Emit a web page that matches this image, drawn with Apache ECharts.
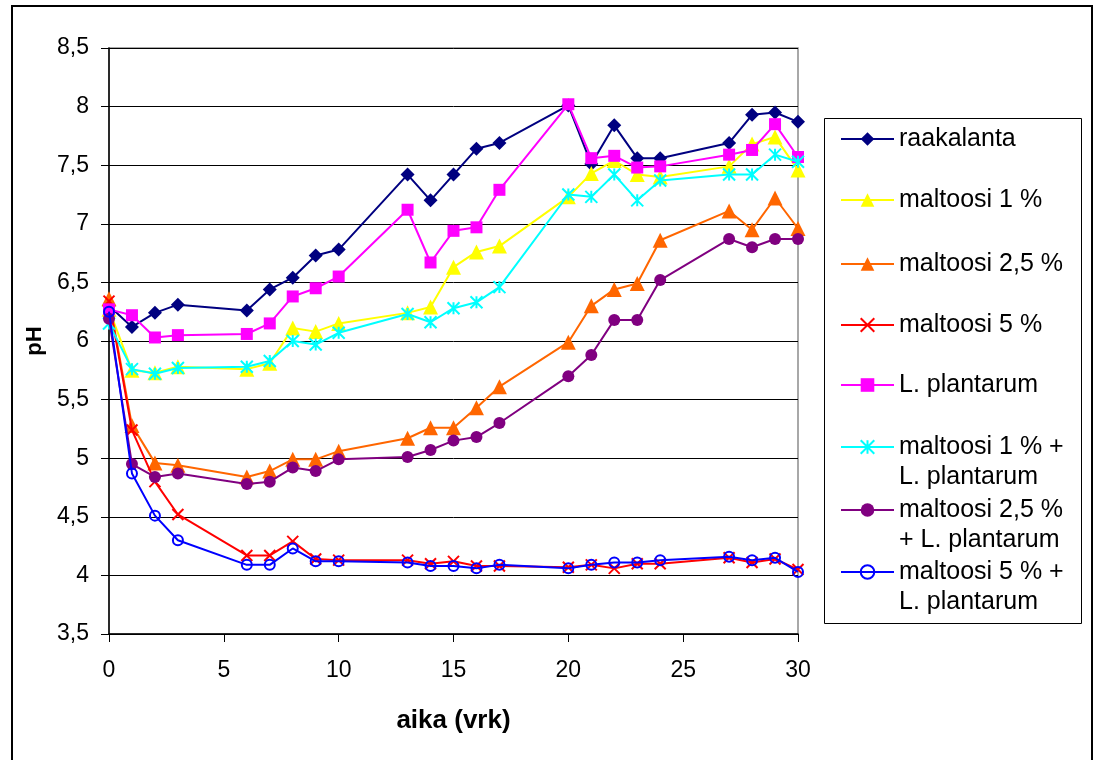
<!DOCTYPE html>
<html>
<head>
<meta charset="utf-8">
<title>pH</title>
<script src="https://cdn.jsdelivr.net/npm/echarts@6/dist/echarts.min.js"></script>
<style>
  html, body { margin: 0; padding: 0; background: #fff; }
  #chart { width: 1098px; height: 760px; }
</style>
</head>
<body>
<div id="chart"></div>
<script>
// Sampling days (vrk)
var days = [0, 1, 2, 3, 6, 7, 8, 9, 10, 13, 14, 15, 16, 17, 20, 21, 22, 23, 24, 27, 28, 29, 30];

// pH per treatment
var raakalanta = [6.30, 6.12, 6.24, 6.31, 6.26, 6.44, 6.54, 6.73, 6.78, 7.42, 7.20, 7.42, 7.64, 7.69, 8.01, 7.51, 7.84, 7.56, 7.56, 7.69, 7.93, 7.95, 7.87];
var maltoosi1 = [6.27, 5.75, 5.73, 5.78, 5.76, 5.81, 6.11, 6.08, 6.15, 6.24, 6.29, 6.63, 6.76, 6.81, 7.23, 7.43, 7.54, 7.42, 7.40, 7.49, 7.68, 7.74, 7.46];
var maltoosi25 = [6.36, 5.28, 4.96, 4.94, 4.84, 4.89, 4.99, 4.99, 5.06, 5.17, 5.26, 5.26, 5.43, 5.61, 5.99, 6.30, 6.44, 6.49, 6.86, 7.11, 6.95, 7.22, 6.96];
var maltoosi5 = [6.34, 5.24, 4.80, 4.52, 4.17, 4.17, 4.29, 4.14, 4.13, 4.13, 4.10, 4.12, 4.08, 4.08, 4.07, 4.09, 4.06, 4.10, 4.10, 4.15, 4.11, 4.14, 4.05];
var plantarum = [6.27, 6.22, 6.03, 6.05, 6.06, 6.15, 6.38, 6.45, 6.55, 7.12, 6.67, 6.94, 6.97, 7.29, 8.02, 7.56, 7.58, 7.48, 7.49, 7.59, 7.63, 7.85, 7.57];
var maltoosi1LP = [6.15, 5.76, 5.72, 5.77, 5.78, 5.83, 6.00, 5.97, 6.07, 6.23, 6.16, 6.28, 6.33, 6.46, 7.25, 7.23, 7.42, 7.20, 7.37, 7.42, 7.42, 7.59, 7.53];
var maltoosi25LP = [6.19, 4.95, 4.84, 4.87, 4.78, 4.80, 4.92, 4.89, 4.99, 5.01, 5.07, 5.15, 5.18, 5.30, 5.70, 5.88, 6.18, 6.18, 6.52, 6.87, 6.80, 6.87, 6.87];
var maltoosi5LP = [6.25, 4.87, 4.51, 4.30, 4.09, 4.09, 4.23, 4.12, 4.12, 4.11, 4.08, 4.08, 4.06, 4.09, 4.06, 4.09, 4.11, 4.11, 4.13, 4.16, 4.13, 4.15, 4.03];

// Series names and their wrapped legend labels
var seriesNames = [
  'raakalanta', 'maltoosi 1 %', 'maltoosi 2,5 %', 'maltoosi 5 %', 'L. plantarum',
  'maltoosi 1 % + L. plantarum', 'maltoosi 2,5 % + L. plantarum', 'maltoosi 5 % + L. plantarum'
];
var legendLabels = [
  'raakalanta', 'maltoosi 1 %', 'maltoosi 2,5 %', 'maltoosi 5 %', 'L. plantarum',
  'maltoosi 1 % +\nL. plantarum', 'maltoosi 2,5 %\n+ L. plantarum', 'maltoosi 5 % +\nL. plantarum'
];

// Axis ranges
var xMin = 0, xMax = 30, xStep = 5;
var yMin = 3.5, yMax = 8.5, yStep = 0.5;

var FONT = '"Liberation Sans", Arial, sans-serif';

var X_PATH = 'path://M0,0L10,10M10,0L0,10';
var STAR_PATH = 'path://M5,0L5,10M0,0L10,10M10,0L0,10';

var styles = [
  { color: '#000080', symbol: 'diamond', size: 14 },
  { color: '#FFFF00', symbol: 'triangle', size: 15 },
  { color: '#FF6600', symbol: 'triangle', size: 15 },
  { color: '#FF0000', symbol: X_PATH, size: 11, stroke: true },
  { color: '#FF00FF', symbol: 'rect', size: 12 },
  { color: '#00FFFF', symbol: STAR_PATH, size: 12, stroke: true },
  { color: '#800080', symbol: 'circle', size: 12 },
  { color: '#0000FF', symbol: 'circle', size: 10, open: true }
];

var valueSets = [raakalanta, maltoosi1, maltoosi25, maltoosi5, plantarum, maltoosi1LP, maltoosi25LP, maltoosi5LP];

var series = valueSets.map(function (vals, k) {
  var s = styles[k];
  var itemStyle = { color: s.color };
  if (s.stroke) { itemStyle.borderColor = s.color; itemStyle.borderWidth = 2; }
  if (s.open) { itemStyle.color = 'rgba(255,255,255,0)'; itemStyle.borderColor = s.color; itemStyle.borderWidth = 2; }
  return {
    name: seriesNames[k],
    type: 'line',
    data: days.map(function (d, i) { return [d, vals[i]]; }),
    symbol: s.symbol,
    symbolSize: s.size,
    showAllSymbol: true,
    lineStyle: { color: s.color, width: 2 },
    itemStyle: itemStyle,
    emphasis: { disabled: true },
    z: 2 + k
  };
});

// Legend rows: first-line centre of each entry
var legendRowY = [139, 200, 264, 325, 385, 447, 510, 572];
var legends = seriesNames.map(function (name, k) {
  var twoLine = legendLabels[k].indexOf('\n') >= 0;
  // a leading blank line keeps the first text line level with the icon
  var label = twoLine ? '\n' + legendLabels[k] : legendLabels[k];
  return {
    data: [name],
    left: 840,
    top: legendRowY[k] - (twoLine ? 45 : 15),
    orient: 'vertical',
    padding: 0,
    itemWidth: 53,
    itemHeight: 17,
    selectedMode: false,
    formatter: function () { return label; },
    textStyle: {
      fontFamily: FONT,
      fontSize: 25,
      color: '#000',
      lineHeight: 30
    }
  };
});

var chart = echarts.init(document.getElementById('chart'), null, { renderer: 'canvas' });
chart.setOption({
  animation: false,
  backgroundColor: '#fff',
  grid: {
    left: 109, right: 300, top: 48, bottom: 126,
    show: true, borderColor: '#8c8c8c', borderWidth: 1.5, backgroundColor: 'transparent'
  },
  legend: legends,
  xAxis: {
    type: 'value',
    min: xMin, max: xMax, interval: xStep,
    name: 'aika (vrk)',
    nameLocation: 'middle',
    nameGap: 74,
    nameTextStyle: { fontFamily: FONT, fontSize: 26, fontWeight: 'bold', color: '#000' },
    axisLine: { lineStyle: { color: '#000', width: 1.5 } },
    axisTick: { show: true, inside: false, length: 8, lineStyle: { color: '#000' } },
    axisLabel: { fontFamily: FONT, fontSize: 23, color: '#000', margin: 25 },
    splitLine: { show: false }
  },
  yAxis: {
    type: 'value',
    min: yMin, max: yMax, interval: yStep,
    name: 'pH',
    nameLocation: 'middle',
    nameGap: 58,
    nameRotate: 90,
    nameTextStyle: { fontFamily: FONT, fontSize: 22, fontWeight: 'bold', color: '#000' },
    axisLine: { show: true, lineStyle: { color: '#000', width: 1.5 } },
    axisTick: { show: true, inside: false, length: 8, lineStyle: { color: '#000' } },
    axisLabel: {
      fontFamily: FONT, fontSize: 23, color: '#000', margin: 20,
      formatter: function (v) { return String(v).replace('.', ','); }
    },
    splitLine: { show: true, lineStyle: { color: '#000', width: 1 } }
  },
  graphic: [
    {
      type: 'rect', z: 0, silent: true,
      shape: { x: 12, y: 6, width: 1080, height: 800 },
      style: { fill: null, stroke: '#000', lineWidth: 2 }
    },
    {
      type: 'rect', z: 0, silent: true,
      shape: { x: 824.5, y: 118.5, width: 257, height: 505 },
      style: { fill: null, stroke: '#000', lineWidth: 1 }
    }
  ],
  series: series
});
</script>
</body>
</html>
